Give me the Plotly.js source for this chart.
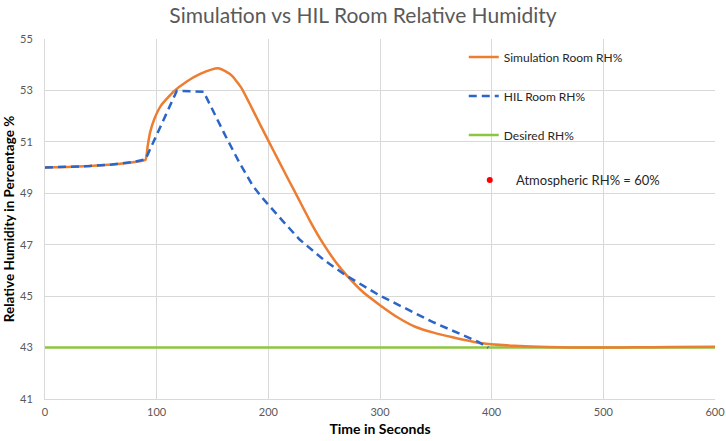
<!DOCTYPE html>
<html>
<head>
<meta charset="utf-8">
<script src="https://cdn.plot.ly/plotly-3.0.1.min.js"></script>
<style>
  html, body { margin: 0; padding: 0; background: #fff; }
  #chart { width: 726px; height: 441px; }
</style>
</head>
<body>
<div id="chart"></div>
<script>
// values
const simTime = [0, 20, 40, 60, 80, 90, 92, 94, 98, 104, 115, 127, 139, 149, 155, 161, 168, 176, 183, 192, 200, 210, 219, 226, 237, 249, 260, 270, 285, 300, 316, 332, 348, 365, 389, 420, 450, 470, 500, 530, 560, 600];
const simRH = [50.0, 50.02, 50.06, 50.12, 50.22, 50.3, 50.85, 51.35, 51.9, 52.42, 52.95, 53.35, 53.64, 53.81, 53.86, 53.76, 53.55, 53.09, 52.51, 51.73, 51.05, 50.2, 49.45, 48.87, 47.95, 47.05, 46.35, 45.82, 45.15, 44.65, 44.17, 43.8, 43.58, 43.4, 43.18, 43.07, 43.02, 43.0, 43.0, 43.01, 43.02, 43.03];

const hilTime = [0, 20, 40, 60, 80, 90, 118, 142, 151, 162, 174, 186, 194, 200, 213, 228, 250, 269, 299, 347, 388, 397];
const hilRH = [50.0, 50.02, 50.06, 50.12, 50.22, 50.32, 52.98, 52.95, 52.15, 51.2, 50.2, 49.3, 48.85, 48.55, 47.92, 47.2, 46.4, 45.82, 45.04, 44.0, 43.22, 43.0];

const desiredTime = [0, 600];
const desiredRH = [43, 43];

const xTicks = [0, 100, 200, 300, 400, 500, 600];
const yTicks = [41, 43, 45, 47, 49, 51, 53, 55];

const FONT = 'Lato, "Open Sans", sans-serif';

var traces = [
  {
    x: desiredTime,
    y: desiredRH,
    name: 'Desired RH%',
    mode: 'lines',
    line: { color: '#8cc63f', width: 2.5 },
    legendrank: 3,
    legendgroup: 'c',
  },
  {
    x: simTime,
    y: simRH,
    name: 'Simulation Room RH%',
    mode: 'lines',
    line: { color: '#ed7d31', width: 2.5, shape: 'spline', smoothing: 0.4 },
    legendrank: 1,
    legendgroup: 'a',
  },
  {
    x: hilTime,
    y: hilRH,
    name: 'HIL Room RH%',
    mode: 'lines',
    line: { color: '#2b65c7', width: 2.5, dash: '8px,5px' },
    legendrank: 2,
    legendgroup: 'b',
  },
  {
    // legend-only entry, nothing drawn on the plot
    x: [null],
    y: [null],
    name: '\u00a0\u00a0Atmospheric RH% = 60%',
    mode: 'markers',
    marker: { color: '#ff0000', size: 6 },
    showlegend: true,
    legend: 'legend2',
  },
];

var layout = {
  width: 726,
  height: 441,
  margin: { l: 45, r: 11, t: 39, b: 42 },
  paper_bgcolor: '#fff',
  plot_bgcolor: '#fff',
  font: { family: FONT, color: '#595959', size: 11 },
  title: {
    text: 'Simulation vs HIL Room Relative Humidity',
    font: { family: FONT, size: 21, color: '#595959' },
    x: 0.5,
    xref: 'container',
    y: 0.965,
    yanchor: 'middle',
  },
  xaxis: {
    range: [0, 600],
    tickvals: xTicks,
    ticktext: xTicks.map(String),
    showgrid: true,
    gridcolor: '#d9d9d9',
    zeroline: false,
    showline: true,
    linecolor: '#d9d9d9',
    ticks: '',
    ticklabelstandoff: 3,
    ticklabeloverflow: 'allow',
    tickfont: { size: 11, color: '#595959' },
    title: {
      text: '<b>Time in Seconds</b>',
      font: { family: FONT, size: 14, color: '#000' },
      standoff: 6,
    },
  },
  yaxis: {
    range: [41, 55],
    tickvals: yTicks,
    ticktext: yTicks.map(String),
    showgrid: true,
    gridcolor: '#d9d9d9',
    zeroline: false,
    showline: true,
    linecolor: '#d9d9d9',
    ticks: '',
    ticklabelstandoff: 9,
    tickfont: { size: 11, color: '#595959' },
    title: {
      text: '<b>Relative Humidity in Percentage %</b>',
      font: { family: FONT, size: 13.5, color: '#000' },
      standoff: 2,
    },
  },
  showlegend: true,
  legend: {
    x: 0.625,
    y: 0.99,
    xanchor: 'left',
    yanchor: 'top',
    bgcolor: 'rgba(0,0,0,0)',
    traceorder: 'grouped',
    tracegroupgap: 20,
    font: { family: FONT, size: 12, color: '#262626' },
  },
  legend2: {
    x: 0.634,
    y: 0.608,
    xanchor: 'left',
    yanchor: 'middle',
    bgcolor: 'rgba(0,0,0,0)',
    font: { family: FONT, size: 13, color: '#262626' },
  },
};

Plotly.newPlot('chart', traces, layout, { displayModeBar: false });
</script>
</body>
</html>
